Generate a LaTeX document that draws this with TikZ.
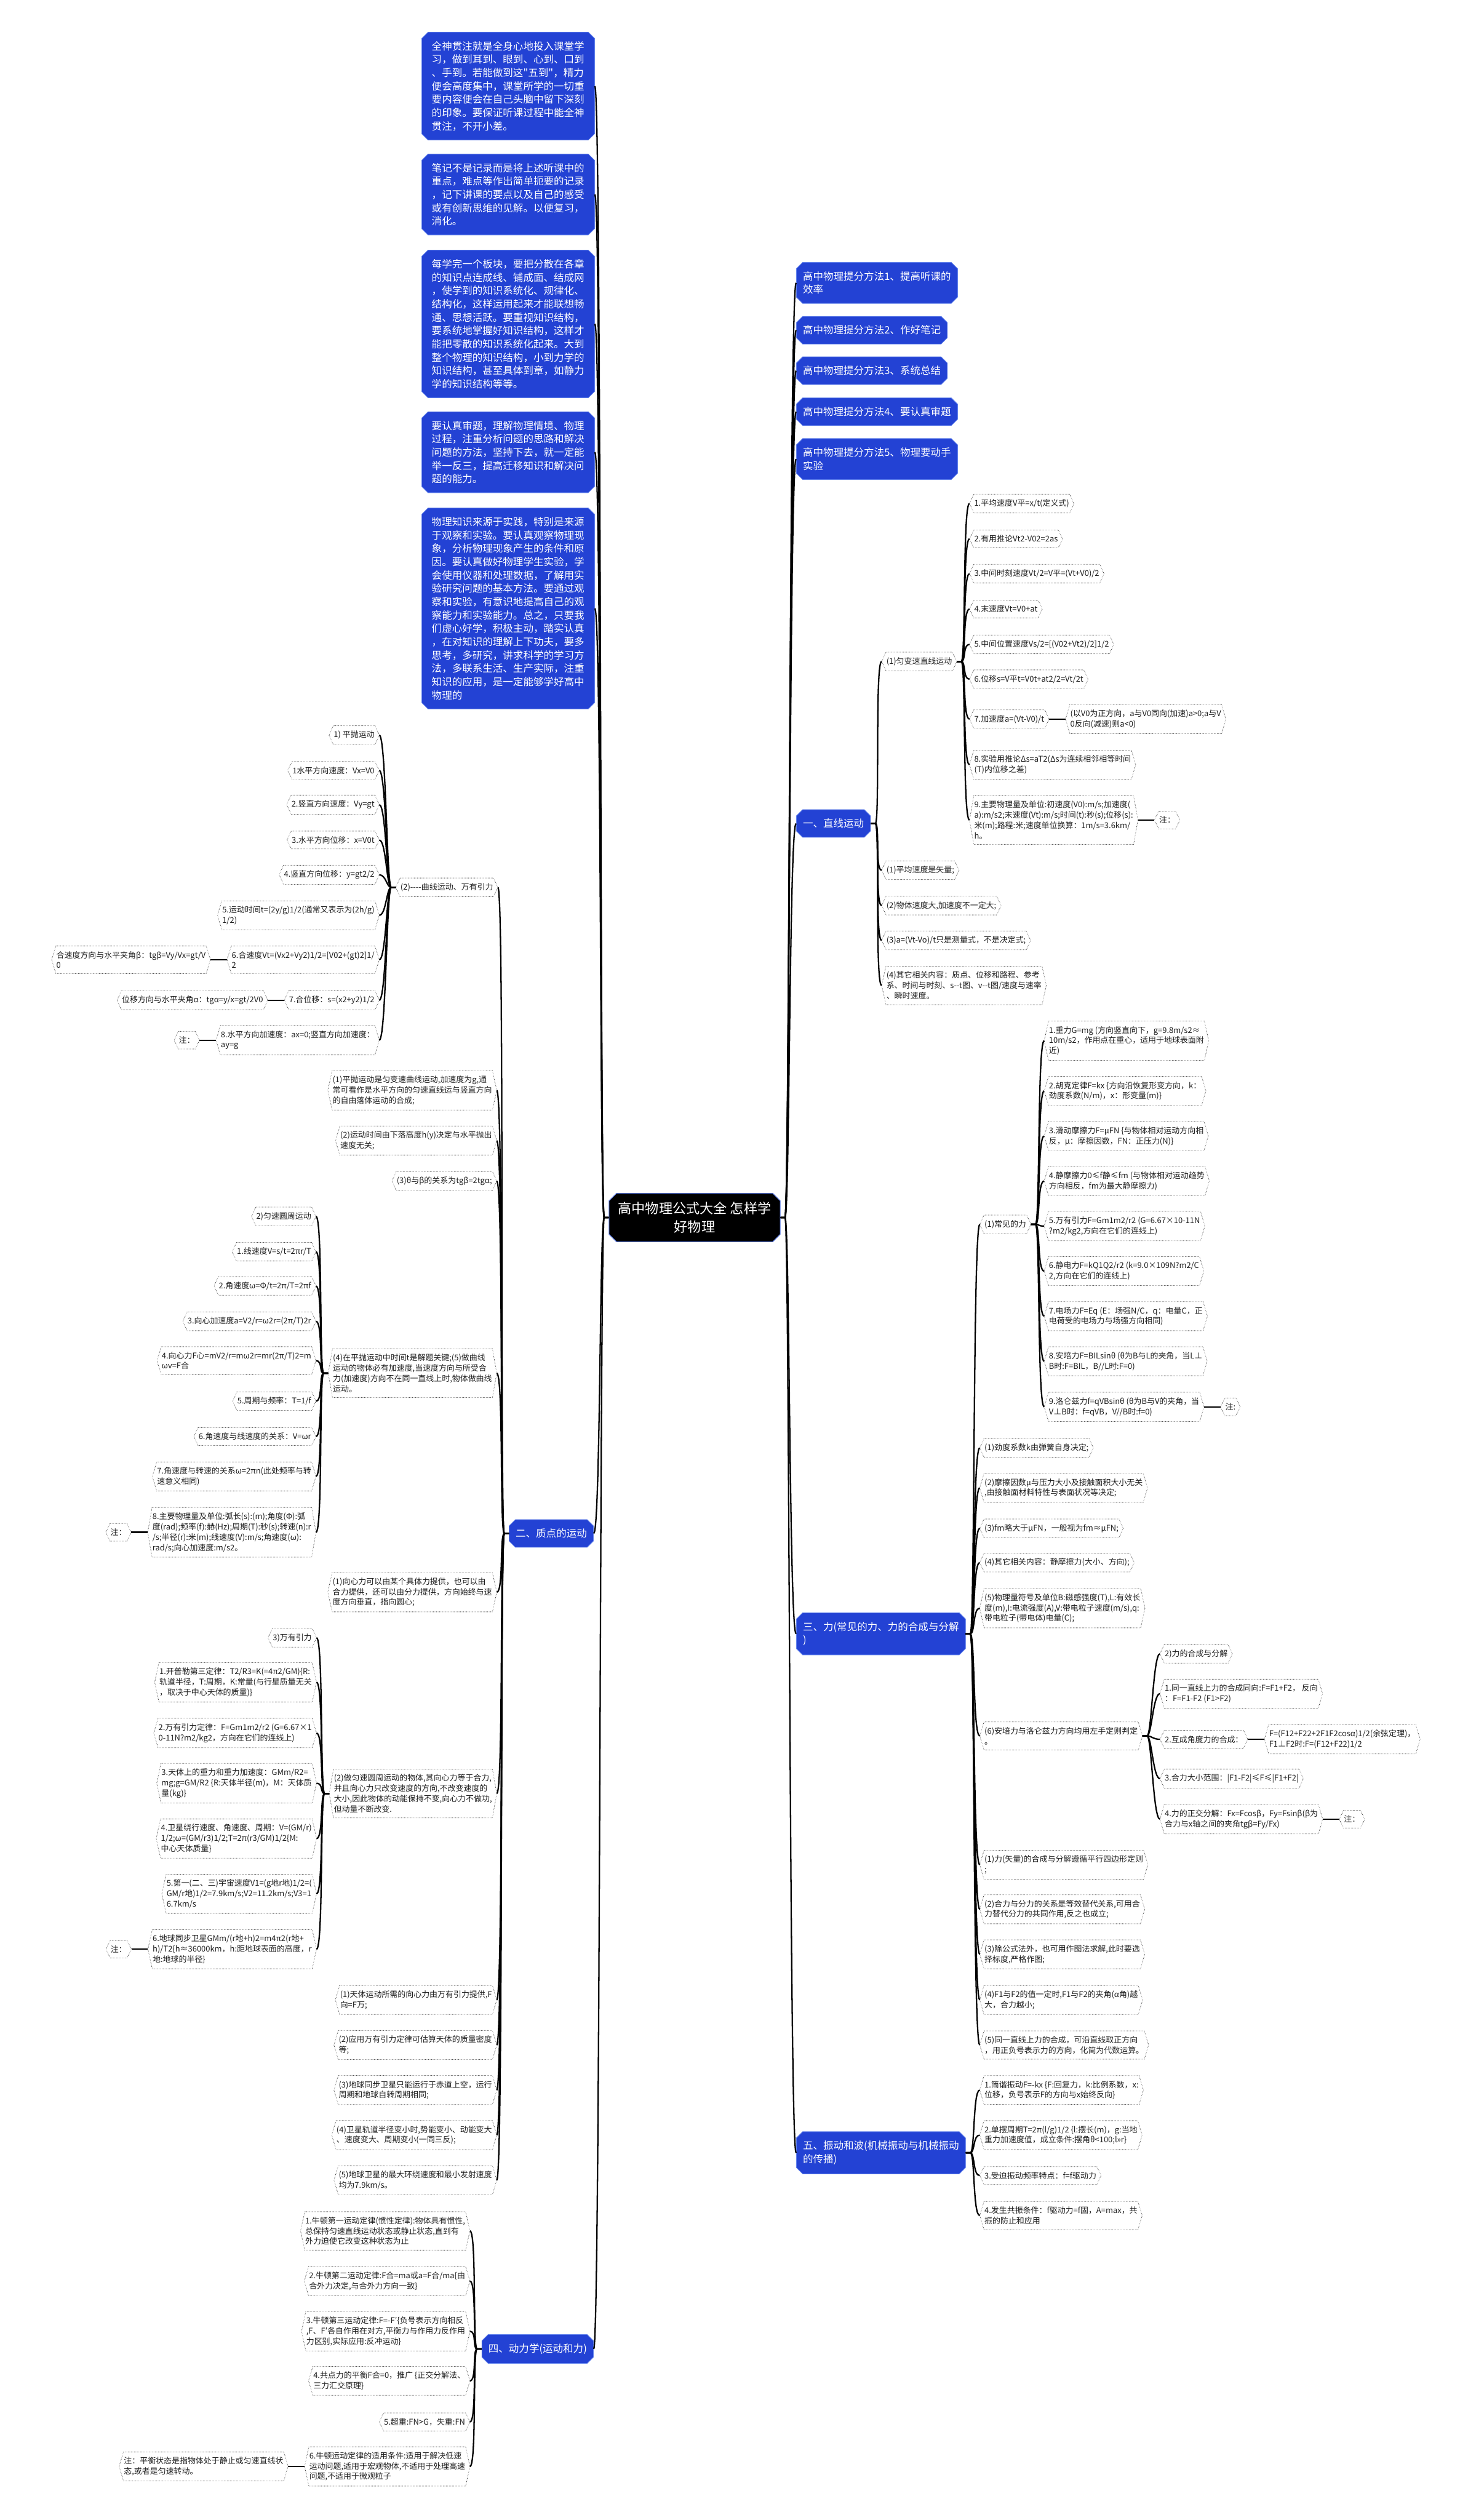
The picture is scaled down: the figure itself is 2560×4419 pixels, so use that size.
\documentclass[tikz,border=0pt]{standalone}
\usepackage{fontspec}
\setmainfont{Noto Sans CJK SC}
\usetikzlibrary{calc,positioning,shapes.misc}
\definecolor{MapBlue}{RGB}{35,66,212}
\definecolor{MapEdge}{RGB}{98,130,236}
\definecolor{LeafInk}{RGB}{30,30,30}
\newcommand\leaffont{\fontsize{7.95pt}{10.3pt}\selectfont}
\newcommand\topicfont{\fontsize{10.15pt}{13.3pt}\selectfont}
\newcommand\rootfont{\fontsize{13.6pt}{17.9pt}\selectfont}
\newcommand\dq{\XeTeXglyph\XeTeXcharglyph"22\relax}

\begin{document}
\begin{tikzpicture}[x=0.2mm, y=-0.2mm,
        root/.style={chamfered rectangle, chamfered rectangle xsep=1.3mm, chamfered rectangle ysep=1.3mm,
                    fill=black, draw=MapEdge, line width=0.6pt, text=white, font=\rootfont,
                    align=center, minimum width=60mm, minimum height=17mm},
        topic/.style={chamfered rectangle, chamfered rectangle xsep=1.1mm, chamfered rectangle ysep=1.1mm,
                    fill=MapBlue, draw=MapEdge, line width=0.5pt, text=white, font=\topicfont,
                    align=left, inner xsep=1.2mm, inner ysep=2.1mm},
        tip/.style={topic, inner xsep=2.4mm, text width=53.6mm},
        leafline/.style={draw=black!70, densely dotted, line width=0.5pt},
        leaf/.style={font=\leaffont, text=LeafInk, align=left, inner xsep=1.6mm, inner ysep=1.75mm,
                    append after command={\pgfextra{\draw[leafline]
                        ([xshift=1.5mm]\tikzlastnode.north west) -- (\tikzlastnode.west)
                        -- ([xshift=1.5mm]\tikzlastnode.south west) -- ([xshift=-1.5mm]\tikzlastnode.south east)
                        -- (\tikzlastnode.east) -- ([xshift=-1.5mm]\tikzlastnode.north east) -- cycle;}}},
        link/.style={draw=black, line width=1.4pt},
        rto/.style={to path={-- ++(8,0) .. controls +(8,0) and ($(\tikztotarget)+(-12,0)$) .. (\tikztotarget)}},
        lto/.style={to path={-- ++(-8,0) .. controls +(-8,0) and ($(\tikztotarget)+(12,0)$) .. (\tikztotarget)}}
]
    \path[use as bounding box, fill=white] (0,0) rectangle (2560,4419);

    \node[root] (root) at (1218,2135) {高中物理公式大全 怎样学\\好物理};

    % study tips, left top
    \node[tip, anchor=east] (b1) at (1043,151) {全神贯注就是全身心地投入课堂学\\习，做到耳到、眼到、心到、口到\\、手到。若能做到这\dq 五到\dq ，精力\\便会高度集中，课堂所学的一切重\\要内容便会在自己头脑中留下深刻\\的印象。要保证听课过程中能全神\\贯注，不开小差。};
    \node[tip, anchor=east] (b2) at (1043,341) {笔记不是记录而是将上述听课中的\\重点，难点等作出简单扼要的记录\\，记下讲课的要点以及自己的感受\\或有创新思维的见解。以便复习，\\消化。};
    \node[tip, anchor=east] (b3) at (1043,568) {每学完一个板块，要把分散在各章\\的知识点连成线、铺成面、结成网\\，使学到的知识系统化、规律化、\\结构化，这样运用起来才能联想畅\\通、思想活跃。要重视知识结构，\\要系统地掌握好知识结构，这样才\\能把零散的知识系统化起来。大到\\整个物理的知识结构，小到力学的\\知识结构，甚至具体到章，如静力\\学的知识结构等等。};
    \node[tip, anchor=east] (b4) at (1043,793) {要认真审题，理解物理情境、物理\\过程，注重分析问题的思路和解决\\问题的方法，坚持下去，就一定能\\举一反三，提高迁移知识和解决问\\题的能力。};
    \node[tip, anchor=east] (b5) at (1043,1067) {物理知识来源于实践，特别是来源\\于观察和实验。要认真观察物理现\\象，分析物理现象产生的条件和原\\因。要认真做好物理学生实验，学\\会使用仪器和处理数据，了解用实\\验研究问题的基本方法。要通过观\\察和实验，有意识地提高自己的观\\察能力和实验能力。总之，只要我\\们虚心好学，积极主动，踏实认真\\，在对知识的理解上下功夫，要多\\思考，多研究，讲求科学的学习方\\法，多联系生活、生产实际，注重\\知识的应用，是一定能够学好高中\\物理的};

    % methods, right top
    \node[topic, anchor=west] (m1) at (1396,496) {高中物理提分方法1、提高听课的\\效率};
    \node[topic, anchor=west] (m2) at (1396,579) {高中物理提分方法2、作好笔记};
    \node[topic, anchor=west] (m3) at (1396,650) {高中物理提分方法3、系统总结};
    \node[topic, anchor=west] (m4) at (1396,722) {高中物理提分方法4、要认真审题};
    \node[topic, anchor=west] (m5) at (1396,805) {高中物理提分方法5、物理要动手\\实验};

    % 一
    \node[topic, anchor=west] (k1) at (1396,1444) {一、直线运动};
    \node[leaf, anchor=west] (a0) at (1546,1160) {(1)匀变速直线运动};
    \node[leaf, anchor=west] (a1) at (1700,883) {1.平均速度V平=x/t(定义式)};
    \node[leaf, anchor=west] (a2) at (1700,945) {2.有用推论Vt2-V02=2as};
    \node[leaf, anchor=west] (a3) at (1700,1006) {3.中间时刻速度Vt/2=V平=(Vt+V0)/2};
    \node[leaf, anchor=west] (a4) at (1700,1068) {4.末速度Vt=V0+at};
    \node[leaf, anchor=west] (a5) at (1700,1130) {5.中间位置速度Vs/2=[(V02+Vt2)/2]1/2};
    \node[leaf, anchor=west] (a6) at (1700,1191) {6.位移s=V平t=V0t+at2/2=Vt/2t};
    \node[leaf, anchor=west] (a7) at (1700,1261) {7.加速度a=(Vt-V0)/t};
    \node[leaf, right=5.8mm of a7] (a7n) {(以V0为正方向，a与V0同向(加速)a>0;a与V\\0反向(减速)则a<0)};
    \node[leaf, anchor=west] (a8) at (1700,1341) {8.实验用推论Δs=aT2(Δs为连续相邻相等时间\\(T)内位移之差)};
    \node[leaf, anchor=west] (a9) at (1700,1438) {9.主要物理量及单位:初速度(V0):m/s;加速度(\\a):m/s2;末速度(Vt):m/s;时间(t):秒(s);位移(s):\\米(m);路程:米;速度单位换算：1m/s=3.6km/\\h。};
    \node[leaf, right=5.8mm of a9] (a9n) {注：};
    \node[leaf, anchor=west] (a10) at (1546,1526) {(1)平均速度是矢量;};
    \node[leaf, anchor=west] (a11) at (1546,1588) {(2)物体速度大,加速度不一定大;};
    \node[leaf, anchor=west] (a12) at (1546,1649) {(3)a=(Vt-Vo)/t只是测量式，不是决定式;};
    \node[leaf, anchor=west] (a13) at (1546,1728) {(4)其它相关内容：质点、位移和路程、参考\\系、时间与时刻、s-{}-t图、v-{}-t图/速度与速率\\、瞬时速度。};

    % 三
    \node[topic, anchor=west] (k3) at (1396,2865) {三、力(常见的力、力的合成与分解\\)};
    \node[leaf, anchor=west] (f0) at (1718,2147) {(1)常见的力};
    \node[leaf, anchor=west] (f1) at (1831,1825) {1.重力G=mg (方向竖直向下，g=9.8m/s2≈\\10m/s2，作用点在重心，适用于地球表面附\\近)};
    \node[leaf, anchor=west] (f2) at (1831,1913) {2.胡克定律F=kx \{方向沿恢复形变方向，k：\\劲度系数(N/m)，x：形变量(m)\}};
    \node[leaf, anchor=west] (f3) at (1831,1992) {3.滑动摩擦力F=μFN \{与物体相对运动方向相\\反，μ：摩擦因数，FN：正压力(N)\}};
    \node[leaf, anchor=west] (f4) at (1831,2071) {4.静摩擦力0≤f静≤fm (与物体相对运动趋势\\方向相反，fm为最大静摩擦力)};
    \node[leaf, anchor=west] (f5) at (1831,2150) {5.万有引力F=Gm1m2/r2 (G=6.67×10-11N\\?m2/kg2,方向在它们的连线上)};
    \node[leaf, anchor=west] (f6) at (1831,2229) {6.静电力F=kQ1Q2/r2 (k=9.0×109N?m2/C\\2,方向在它们的连线上)};
    \node[leaf, anchor=west] (f7) at (1831,2308) {7.电场力F=Eq (E：场强N/C，q：电量C，正\\电荷受的电场力与场强方向相同)};
    \node[leaf, anchor=west] (f8) at (1831,2387) {8.安培力F=BILsinθ (θ为B与L的夹角，当L⊥\\B时:F=BIL，B//L时:F=0)};
    \node[leaf, anchor=west] (f9) at (1831,2467) {9.洛仑兹力f=qVBsinθ (θ为B与V的夹角，当\\V⊥B时：f=qVB，V//B时:f=0)};
    \node[leaf, right=5.8mm of f9] (f9n) {注:};
    \node[leaf, anchor=west] (g1) at (1718,2539) {(1)劲度系数k由弹簧自身决定;};
    \node[leaf, anchor=west] (g2) at (1718,2609) {(2)摩擦因数μ与压力大小及接触面积大小无关\\,由接触面材料特性与表面状况等决定;};
    \node[leaf, anchor=west] (g3) at (1718,2680) {(3)fm略大于μFN，一般视为fm≈μFN;};
    \node[leaf, anchor=west] (g4) at (1718,2740) {(4)其它相关内容：静摩擦力(大小、方向);};
    \node[leaf, anchor=west] (g5) at (1718,2820) {(5)物理量符号及单位B:磁感强度(T),L:有效长\\度(m),I:电流强度(A),V:带电粒子速度(m/s),q:\\带电粒子(带电体)电量(C);};
    \node[leaf, anchor=west] (g6) at (1718,3044) {(6)安培力与洛仑兹力方向均用左手定则判定\\。};
    \node[leaf, anchor=west] (c0) at (2034,2900) {2)力的合成与分解};
    \node[leaf, anchor=west] (c1) at (2034,2970) {1.同一直线上力的合成同向:F=F1+F2， 反向\\：F=F1-F2 (F1>F2)};
    \node[leaf, anchor=west] (c2) at (2034,3050) {2.互成角度力的合成：};
    \node[leaf, right=5.8mm of c2] (c2n) {F=(F12+F22+2F1F2cosα)1/2(余弦定理)，\\F1⊥F2时:F=(F12+F22)1/2};
    \node[leaf, anchor=west] (c3) at (2034,3119) {3.合力大小范围：|F1-F2|≤F≤|F1+F2|};
    \node[leaf, anchor=west] (c4) at (2034,3190) {4.力的正交分解：Fx=Fcosβ，Fy=Fsinβ(β为\\合力与x轴之间的夹角tgβ=Fy/Fx)};
    \node[leaf, right=5.8mm of c4] (c4n) {注：};
    \node[leaf, anchor=west] (h1) at (1718,3270) {(1)力(矢量)的合成与分解遵循平行四边形定则\\;};
    \node[leaf, anchor=west] (h2) at (1718,3348) {(2)合力与分力的关系是等效替代关系,可用合\\力替代分力的共同作用,反之也成立;};
    \node[leaf, anchor=west] (h3) at (1718,3427) {(3)除公式法外，也可用作图法求解,此时要选\\择标度,严格作图;};
    \node[leaf, anchor=west] (h4) at (1718,3507) {(4)F1与F2的值一定时,F1与F2的夹角(α角)越\\大，合力越小;};
    \node[leaf, anchor=west] (h5) at (1718,3586) {(5)同一直线上力的合成，可沿直线取正方向\\，用正负号表示力的方向，化简为代数运算。};

    % 五
    \node[topic, anchor=west] (k5) at (1396,3775) {五、振动和波(机械振动与机械振动\\的传播)};
    \node[leaf, anchor=west] (w1) at (1718,3665) {1.简谐振动F=-kx \{F:回复力，k:比例系数，x:\\位移，负号表示F的方向与x始终反向\}};
    \node[leaf, anchor=west] (w2) at (1718,3744) {2.单摆周期T=2π(l/g)1/2 \{l:摆长(m)，g:当地\\重力加速度值，成立条件:摆角θ<100;l>>r\}};
    \node[leaf, anchor=west] (w3) at (1718,3815) {3.受迫振动频率特点：f=f驱动力};
    \node[leaf, anchor=west] (w4) at (1718,3885) {4.发生共振条件：f驱动力=f固，A=max，共\\振的防止和应用};

    % 二
    \node[topic, anchor=east] (k2) at (1041,2689) {二、质点的运动};
    \node[leaf, anchor=east] (p0) at (873,1556) {(2)-{}-{}-{}-曲线运动、万有引力};
    \node[leaf, anchor=east] (q0) at (665,1289) {1) 平抛运动};
    \node[leaf, anchor=east] (q1) at (665,1351) {1水平方向速度：Vx=V0};
    \node[leaf, anchor=east] (q2) at (665,1411) {2.竖直方向速度：Vy=gt};
    \node[leaf, anchor=east] (q3) at (665,1473) {3.水平方向位移：x=V0t};
    \node[leaf, anchor=east] (q4) at (665,1534) {4.竖直方向位移：y=gt2/2};
    \node[leaf, anchor=east] (q5) at (665,1605) {5.运动时间t=(2y/g)1/2(通常又表示为(2h/g)\\1/2)};
    \node[leaf, anchor=east] (q6) at (665,1683) {6.合速度Vt=(Vx2+Vy2)1/2=[V02+(gt)2]1/\\2};
    \node[leaf, left=5.8mm of q6] (q6n) {合速度方向与水平夹角β：tgβ=Vy/Vx=gt/V\\0};
    \node[leaf, anchor=east] (q7) at (665,1754) {7.合位移：s=(x2+y2)1/2};
    \node[leaf, left=5.8mm of q7] (q7n) {位移方向与水平夹角α：tgα=y/x=gt/2V0};
    \node[leaf, anchor=east] (q8) at (665,1824) {8.水平方向加速度：ax=0;竖直方向加速度：\\ay=g};
    \node[leaf, left=5.8mm of q8] (q8n) {注：};
    \node[leaf, anchor=east] (p1) at (871,1912) {(1)平抛运动是匀变速曲线运动,加速度为g,通\\常可看作是水平方向的匀速直线运与竖直方向\\的自由落体运动的合成;};
    \node[leaf, anchor=east] (p2) at (871,2000) {(2)运动时间由下落高度h(y)决定与水平抛出\\速度无关;};
    \node[leaf, anchor=east] (p3) at (871,2071) {(3)θ与β的关系为tgβ=2tgα;};
    \node[leaf, anchor=east] (p4) at (871,2408) {(4)在平抛运动中时间t是解题关键;(5)做曲线\\运动的物体必有加速度,当速度方向与所受合\\力(加速度)方向不在同一直线上时,物体做曲线\\运动。};
    \node[leaf, anchor=east] (u0) at (554,2133) {2)匀速圆周运动};
    \node[leaf, anchor=east] (u1) at (554,2195) {1.线速度V=s/t=2πr/T};
    \node[leaf, anchor=east] (u2) at (554,2255) {2.角速度ω=Φ/t=2π/T=2πf};
    \node[leaf, anchor=east] (u3) at (554,2317) {3.向心加速度a=V2/r=ω2r=(2π/T)2r};
    \node[leaf, anchor=east] (u4) at (554,2386) {4.向心力F心=mV2/r=mω2r=mr(2π/T)2=m\\ωv=F合};
    \node[leaf, anchor=east] (u5) at (554,2457) {5.周期与频率：T=1/f};
    \node[leaf, anchor=east] (u6) at (554,2519) {6.角速度与线速度的关系：V=ωr};
    \node[leaf, anchor=east] (u7) at (554,2589) {7.角速度与转速的关系ω=2πn(此处频率与转\\速意义相同)};
    \node[leaf, anchor=east] (u8) at (554,2687) {8.主要物理量及单位:弧长(s):(m);角度(Φ):弧\\度(rad);频率(f):赫(Hz);周期(T):秒(s);转速(n):r\\/s;半径(r):米(m);线速度(V):m/s;角速度(ω):\\rad/s;向心加速度:m/s2。};
    \node[leaf, left=5.8mm of u8] (u8n) {注：};
    \node[leaf, anchor=east] (p5) at (871,2792) {(1)向心力可以由某个具体力提供，也可以由\\合力提供，还可以由分力提供，方向始终与速\\度方向垂直，指向圆心;};
    \node[leaf, anchor=east] (p6) at (871,3145) {(2)做匀速圆周运动的物体,其向心力等于合力,\\并且向心力只改变速度的方向,不改变速度的\\大小,因此物体的动能保持不变,向心力不做功,\\但动量不断改变.};
    \node[leaf, anchor=east] (v0) at (555,2872) {3)万有引力};
    \node[leaf, anchor=east] (v1) at (555,2950) {1.开普勒第三定律：T2/R3=K(=4π2/GM)\{R:\\轨道半径，T:周期，K:常量(与行星质量无关\\，取决于中心天体的质量)\}};
    \node[leaf, anchor=east] (v2) at (555,3039) {2.万有引力定律：F=Gm1m2/r2 (G=6.67×1\\0-11N?m2/kg2，方向在它们的连线上)};
    \node[leaf, anchor=east] (v3) at (555,3127) {3.天体上的重力和重力加速度：GMm/R2=\\mg;g=GM/R2 \{R:天体半径(m)，M：天体质\\量(kg)\}};
    \node[leaf, anchor=east] (v4) at (555,3224) {4.卫星绕行速度、角速度、周期：V=(GM/r)\\1/2;ω=(GM/r3)1/2;T=2π(r3/GM)1/2\{M:\\中心天体质量\}};
    \node[leaf, anchor=east] (v5) at (555,3321) {5.第一(二、三)宇宙速度V1=(g地r地)1/2=(\\GM/r地)1/2=7.9km/s;V2=11.2km/s;V3=1\\6.7km/s};
    \node[leaf, anchor=east] (v6) at (555,3418) {6.地球同步卫星GMm/(r地+h)2=m4π2(r地+\\h)/T2\{h≈36000km，h:距地球表面的高度，r\\地:地球的半径\}};
    \node[leaf, left=5.8mm of v6] (v6n) {注：};
    \node[leaf, anchor=east] (p7) at (871,3507) {(1)天体运动所需的向心力由万有引力提供,F\\向=F万;};
    \node[leaf, anchor=east] (p8) at (871,3586) {(2)应用万有引力定律可估算天体的质量密度\\等;};
    \node[leaf, anchor=east] (p9) at (871,3665) {(3)地球同步卫星只能运行于赤道上空，运行\\周期和地球自转周期相同;};
    \node[leaf, anchor=east] (p10) at (871,3744) {(4)卫星轨道半径变小时,势能变小、动能变大\\、速度变大、周期变小(一同三反);};
    \node[leaf, anchor=east] (p11) at (871,3823) {(5)地球卫星的最大环绕速度和最小发射速度\\均为7.9km/s。};

    % 四
    \node[topic, anchor=east] (k4) at (1041,4119) {四、动力学(运动和力)};
    \node[leaf, anchor=east] (d1) at (824,3912) {1.牛顿第一运动定律(惯性定律):物体具有惯性,\\总保持匀速直线运动状态或静止状态,直到有\\外力迫使它改变这种状态为止};
    \node[leaf, anchor=east] (d2) at (824,4000) {2.牛顿第二运动定律:F合=ma或a=F合/ma\{由\\合外力决定,与合外力方向一致\}};
    \node[leaf, anchor=east] (d3) at (824,4088) {3.牛顿第三运动定律:F=-F′\{负号表示方向相反\\,F、F′各自作用在对方,平衡力与作用力反作用\\力区别,实际应用:反冲运动\}};
    \node[leaf, anchor=east] (d4) at (824,4175) {4.共点力的平衡F合=0，推广 \{正交分解法、\\三力汇交原理\}};
    \node[leaf, anchor=east] (d5) at (824,4247) {5.超重:FN>G，失重:FN};
    \node[leaf, anchor=east] (d6) at (824,4325) {6.牛顿运动定律的适用条件:适用于解决低速\\运动问题,适用于宏观物体,不适用于处理高速\\问题,不适用于微观粒子};
    \node[leaf, left=5.8mm of d6] (d6n) {注：平衡状态是指物体处于静止或匀速直线状\\态,或者是匀速转动。};

    % connectors
    \foreach \n in {b1,b2,b3,b4,b5,k2,k4} \draw[link] (root.west) to[lto] (\n.east);
    \foreach \n in {m1,m2,m3,m4,m5,k1,k3,k5} \draw[link] (root.east) to[rto] (\n.west);
    \foreach \n in {a0,a10,a11,a12,a13} \draw[link] (k1.east) to[rto] (\n.west);
    \foreach \n in {1,...,9} \draw[link] (a0.east) to[rto] (a\n.west);
    \foreach \n in {f0,g1,g2,g3,g4,g5,g6,h1,h2,h3,h4,h5} \draw[link] (k3.east) to[rto] (\n.west);
    \foreach \n in {1,...,9} \draw[link] (f0.east) to[rto] (f\n.west);
    \foreach \n in {0,...,4} \draw[link] (g6.east) to[rto] (c\n.west);
    \foreach \n in {1,...,4} \draw[link] (k5.east) to[rto] (w\n.west);
    \foreach \a/\b in {a7/a7n,a9/a9n,f9/f9n,c2/c2n,c4/c4n} \draw[link] (\a.east) -- (\b.west);
    \foreach \n in {p0,p1,p2,p3,p4,p5,p6,p7,p8,p9,p10,p11} \draw[link] (k2.west) to[lto] (\n.east);
    \foreach \n in {0,...,8} \draw[link] (p0.west) to[lto] (q\n.east);
    \foreach \n in {0,...,8} \draw[link] (p4.west) to[lto] (u\n.east);
    \foreach \n in {0,...,6} \draw[link] (p6.west) to[lto] (v\n.east);
    \foreach \n in {1,...,6} \draw[link] (k4.west) to[lto] (d\n.east);
    \foreach \a/\b in {q6/q6n,q7/q7n,q8/q8n,u8/u8n,v6/v6n,d6/d6n} \draw[link] (\a.west) -- (\b.east);
\end{tikzpicture}
\end{document}
